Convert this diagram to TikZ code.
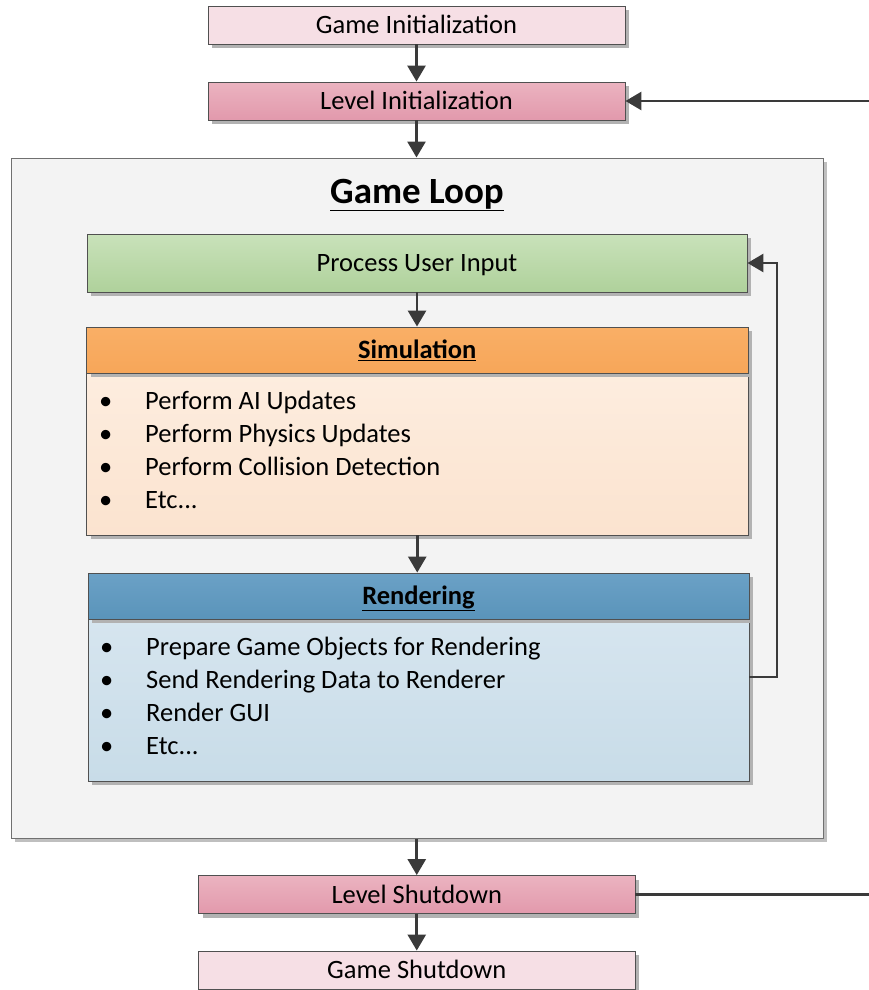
\documentclass[tikz,border=0pt]{standalone}
\usepackage{fontspec}
\setmainfont{Carlito}
\usetikzlibrary{shadows,arrows.meta}
\definecolor{linec}{HTML}{3A3A3A}
\definecolor{boxline}{HTML}{505050}
\definecolor{pinkA}{HTML}{F6DFE5}
\definecolor{pinkBt}{HTML}{EBB3C0}
\definecolor{pinkBb}{HTML}{E299AC}
\definecolor{greenT}{HTML}{C9E2BA}
\definecolor{greenB}{HTML}{AFD19B}
\definecolor{oraT}{HTML}{F9AF66}
\definecolor{oraB}{HTML}{F7A659}
\definecolor{oraBodyT}{HTML}{FDEDDF}
\definecolor{oraBodyB}{HTML}{FBE3CF}
\definecolor{bluT}{HTML}{6BA1C6}
\definecolor{bluB}{HTML}{5A94BA}
\definecolor{bluBodyT}{HTML}{D6E5EF}
\definecolor{bluBodyB}{HTML}{C8DCE8}
\definecolor{loopbg}{HTML}{F3F3F3}
\definecolor{loopline}{HTML}{707070}
\newcommand{\bul}[1]{\makebox[46pt][l]{\textbullet}#1}
\tikzset{
  base/.style={draw=boxline, line width=0.9pt, inner sep=0pt, rectangle,
    drop shadow={shadow xshift=4pt, shadow yshift=-4pt, fill=black!30, opacity=1},
    font=\fontsize{26.5}{33}\selectfont, text height=17pt, text depth=0pt},
  pale/.style={base, fill=pinkA},
  deep/.style={base, top color=pinkBt, bottom color=pinkBb},
  greenbox/.style={base, top color=greenT, bottom color=greenB},
  orahead/.style={base, top color=oraT, bottom color=oraB},
  orabody/.style={base, top color=oraBodyT, bottom color=oraBodyB},
  bluhead/.style={base, top color=bluT, bottom color=bluB},
  blubody/.style={base, top color=bluBodyT, bottom color=bluBodyB},
  loopbox/.style={draw=loopline, line width=1pt, fill=loopbg, inner sep=0pt,
    drop shadow={shadow xshift=4pt, shadow yshift=-4pt, fill=black!25, opacity=1}},
  conn/.style={draw=linec, line width=2.8pt},
  arr/.style={conn, -{Triangle[length=16pt,width=18pt]}},
  item/.style={anchor=base west, inner sep=0pt, font=\fontsize{26.5}{33}\selectfont}
}
\begin{document}
\begin{tikzpicture}[x=1pt,y=-1pt]
\useasboundingbox (0,0) rectangle (869,990);

\node[loopbox, minimum width=812pt, minimum height=680pt] (loop) at (417,498) {};
\node[anchor=base, inner sep=0pt, font=\fontsize{37}{40}\selectfont\bfseries] (title) at (417,203) {\underline{Game Loop}};

\node[pale, minimum width=417pt, minimum height=38pt] (gi) at (416.5,25) {Game Initialization};
\node[deep, minimum width=417pt, minimum height=38pt] (li) at (416.5,101) {Level Initialization};

\node[greenbox, minimum width=660pt, minimum height=58pt] (pui) at (417,263) {Process User Input};

\node[orabody, minimum width=661.5pt, minimum height=162pt] (simb) at (417.25,454) {};
\node[orahead, minimum width=661.5pt, minimum height=46pt, font=\fontsize{26.5}{33}\selectfont\bfseries] (simh) at (417.25,350) {\underline{Simulation}};

\node[blubody, minimum width=661pt, minimum height=162pt] (renb) at (418.5,700) {};
\node[bluhead, minimum width=661pt, minimum height=46pt, font=\fontsize{26.5}{33}\selectfont\bfseries] (renh) at (418.5,596) {\underline{Rendering}};

\node[item] (s1) at (99,409) {\bul{Perform AI Updates}};
\node[item] (s2) at (99,442) {\bul{Perform Physics Updates}};
\node[item] (s3) at (99,475) {\bul{Perform Collision Detection}};
\node[item] (s4) at (99,508) {\bul{Etc...}};

\node[item] (r1) at (100,655) {\bul{Prepare Game Objects for Rendering}};
\node[item] (r2) at (100,688) {\bul{Send Rendering Data to Renderer}};
\node[item] (r3) at (100,721) {\bul{Render GUI}};
\node[item] (r4) at (100,754) {\bul{Etc...}};

\node[deep, minimum width=436.5pt, minimum height=38pt] (ls) at (416.75,894.5) {Level Shutdown};
\node[pale, minimum width=436.5pt, minimum height=38pt] (gs) at (416.75,970) {Game Shutdown};

\coordinate (rin) at (869,101);
\coordinate (rout) at (869,895);
\coordinate (lp) at (777,677);

\draw[arr] (gi) -- (li);
\draw[arr] (li) -- (loop.north -| li);
\draw[arr] (rin) -- (li.east);
\draw[arr] (pui) -- (pui.south |- simh.north);
\draw[arr] (simb.south) -- (simb.south |- renh.north);
\draw[arr] (renb.east |- lp) -- (lp) |- (pui.east);
\draw[arr] (loop.south -| ls) -- (ls);
\draw[arr] (ls) -- (gs);
\draw[conn] (ls.east) -- (ls.east -| rout);
\end{tikzpicture}
\end{document}
